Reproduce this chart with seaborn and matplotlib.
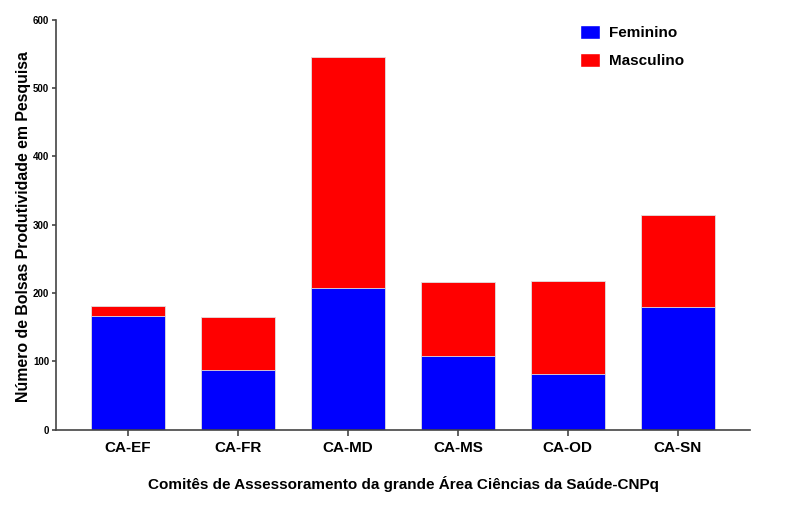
import matplotlib
matplotlib.use("Agg")
import matplotlib.pyplot as plt
import seaborn as sns
import pandas as pd
from matplotlib.patches import Patch

categories = ["CA-EF", "CA-FR", "CA-MD", "CA-MS", "CA-OD", "CA-SN"]
feminino = [166, 87, 207, 107, 81, 179]
masculino = [15, 78, 339, 109, 137, 135]
yticks = [0, 100, 200, 300, 400, 500, 600]

totals = [f + m for f, m in zip(feminino, masculino)]
df = pd.DataFrame({"cat": categories, "fem": feminino, "total": totals})

sns.set_style("white")
plt.rcParams['font.family'] = ['Liberation Sans', 'DejaVu Sans']
plt.rcParams['font.weight'] = 'bold'
for k in ['text.color', 'axes.labelcolor', 'xtick.labelcolor', 'ytick.labelcolor']:
    plt.rcParams[k] = 'black'

fig = plt.figure(figsize=(8, 5.05), dpi=100)
ax = fig.add_axes([0.07, 0.1495, 0.868, 0.8115])

sns.barplot(data=df, x="cat", y="total", color="#ff0000", saturation=1, width=0.675,
            linewidth=0.6, edgecolor="#e0e0e0", ax=ax)
sns.barplot(data=df, x="cat", y="fem", color="#0000ff", saturation=1, width=0.675,
            linewidth=0.6, edgecolor="#e0e0e0", ax=ax)

ax.set_xlim(-0.655, 5.66)
ax.set_ylim(0, 600)
ax.set_yticks(yticks)
ax.set_yticklabels([str(t) for t in yticks], fontsize=7, fontweight='bold')
ax.tick_params(axis='x', labelsize=11, length=4.5, width=1.2, color='#444444', direction='out', pad=4, bottom=True)
ax.tick_params(axis='y', length=3, width=1.2, color='#444444', direction='out', pad=2, left=True)
for lbl in ax.get_xticklabels():
    lbl.set_fontweight('bold')

for s in ["top", "right"]:
    ax.spines[s].set_visible(False)
for s in ["left", "bottom"]:
    ax.spines[s].set_color("#444444")
    ax.spines[s].set_linewidth(1.2)

ax.set_xlabel("Comitês de Assessoramento da grande Área Ciências da Saúde-CNPq",
              fontsize=11, fontweight='bold', labelpad=15)
ax.set_ylabel("Número de Bolsas Produtividade em Pesquisa",
              fontsize=11.4, fontweight='bold', labelpad=1)
ax.yaxis.set_label_coords(-0.036, 0.494)

handles = [Patch(facecolor="#0000ff", label="Feminino"),
           Patch(facecolor="#ff0000", label="Masculino")]
leg = ax.legend(handles=handles, loc="upper left", bbox_to_anchor=(0.735, 1.02),
                frameon=False, fontsize=11, handlelength=1.3, handleheight=1.0,
                labelspacing=0.85, handletextpad=0.6)
for t in leg.get_texts():
    t.set_fontweight('bold')

fig.savefig("out.png", dpi=100)
